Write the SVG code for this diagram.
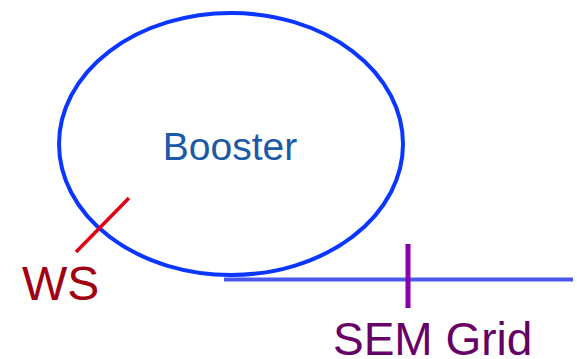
<svg xmlns="http://www.w3.org/2000/svg" width="577" height="359" viewBox="0 0 577 359">
<style>
text{font-family:"Liberation Sans",Arial,sans-serif}
.ring{fill:none;stroke:#0a36ff;stroke-width:4}
.beam{stroke:#4a58f2;stroke-width:4}
</style>
<rect width="577" height="359" fill="#ffffff"/>
<g id="booster">
<ellipse class="ring" cx="231" cy="144" rx="172" ry="131"/>
<text x="230" y="160" font-size="39" fill="#1c5aa8" text-anchor="middle">Booster</text>
</g>
<g id="connectors">
<line class="beam" x1="224" y1="279.5" x2="573" y2="279.5"/>
</g>
<g id="ws">
<line x1="76" y1="252" x2="129" y2="198" stroke="#e00010" stroke-width="3.5"/>
<text x="22" y="300" font-size="48" fill="#a00010">WS</text>
</g>
<g id="sem">
<line x1="408" y1="244" x2="408" y2="308" stroke="#8a00a8" stroke-width="5"/>
<text x="333" y="355" font-size="46" fill="#660066">SEM Grid</text>
</g>
</svg>
